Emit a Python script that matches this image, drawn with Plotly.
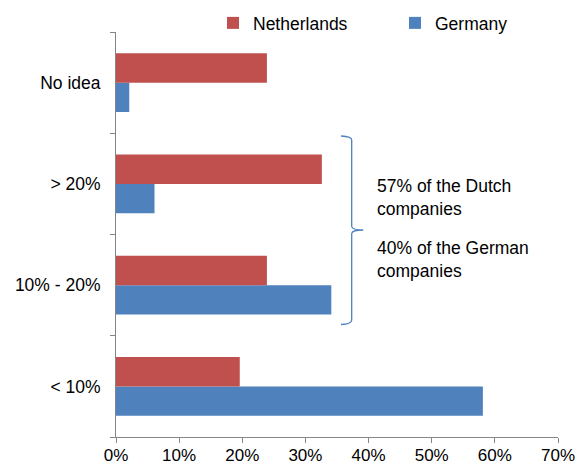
import plotly.graph_objects as go

categories = ["< 10%", "10% - 20%", "> 20%", "No idea"]
netherlands = [19.6, 23.9, 32.6, 23.9]
germany = [58.1, 34.1, 6.1, 2.1]
x_ticks = [0, 10, 20, 30, 40, 50, 60, 70]
x_tick_labels = ["0%", "10%", "20%", "30%", "40%", "50%", "60%", "70%"]
note_dutch = "57% of the Dutch<br>companies"
note_german = "40% of the German<br>companies"

RED = "#C0504D"
BLUE = "#4F81BD"
FONT = "Liberation Sans, Arial, sans-serif"
FS = 17.5

W, H = 577, 466
L, R, T, B = 116, 19, 32, 29
pw, ph = W - L - R, H - T - B

def px(x):
    return (x - L) / pw

def py(y):
    return 1 - (y - T) / ph

fig = go.Figure()
fig.add_trace(go.Bar(y=categories, x=germany, name="Germany", orientation="h",
                     marker=dict(color=BLUE, line=dict(width=0)), legend="legend2"))
fig.add_trace(go.Bar(y=categories, x=netherlands, name="Netherlands", orientation="h",
                     marker=dict(color=RED, line=dict(width=0)), legend="legend"))

# curly brace (annotation decoration) in paper coordinates
brace = (f"M {px(341)},{py(136)} Q {px(351.7)},{py(136.5)} {px(351.7)},{py(140)} "
         f"L {px(351.7)},{py(226.5)} Q {px(352)},{py(230)} {px(363.3)},{py(230)} "
         f"Q {px(352)},{py(230)} {px(351.7)},{py(233.5)} "
         f"L {px(351.7)},{py(320)} Q {px(351.7)},{py(324)} {px(341)},{py(324.5)}")
fig.add_shape(type="path", path=brace, xref="paper", yref="paper",
              line=dict(color=BLUE, width=1.3))

fig.add_annotation(text=note_dutch, xref="paper", yref="paper", x=px(375), y=py(197),
                   xanchor="left", yanchor="middle", showarrow=False, align="left",
                   font=dict(family=FONT, size=FS, color="#000000"))
fig.add_annotation(text=note_german, xref="paper", yref="paper", x=px(375), y=py(259),
                   xanchor="left", yanchor="middle", showarrow=False, align="left",
                   font=dict(family=FONT, size=FS, color="#000000"))

leg_common = dict(orientation="h", xanchor="left", yanchor="middle",
                  font=dict(family=FONT, size=FS, color="#000000"),
                  itemwidth=30, bgcolor="rgba(0,0,0,0)")

fig.update_layout(
    width=W, height=H,
    margin=dict(l=L, r=R, t=T, b=B, autoexpand=False),
    paper_bgcolor="white", plot_bgcolor="white",
    barmode="group", bargap=0.42, bargroupgap=0,
    font=dict(family=FONT, size=FS, color="#000000"),
    showlegend=True,
    legend=dict(x=px(213), y=py(23), **leg_common),
    legend2=dict(x=px(395), y=py(23), **leg_common),
    xaxis=dict(range=[0, 70], tickvals=x_ticks, ticktext=x_tick_labels,
               showgrid=False, zeroline=False, showline=True, linecolor="#868686",
               linewidth=1, ticks="outside", ticklen=5, tickcolor="#868686",
               automargin=False, ticklabelstandoff=-2,
               tickfont=dict(family=FONT, size=17, color="#000000")),
    yaxis=dict(type="category", categoryorder="array", categoryarray=categories,
               range=[-0.5, 3.5], showgrid=False, zeroline=False, showline=True,
               linecolor="#868686", linewidth=1, ticks="outside", ticklen=5,
               tickcolor="#868686", tickson="boundaries", automargin=False,
               tickfont=dict(family=FONT, size=FS, color="#000000"),
               ticklabelstandoff=11),
)

fig.write_html("out.html")
